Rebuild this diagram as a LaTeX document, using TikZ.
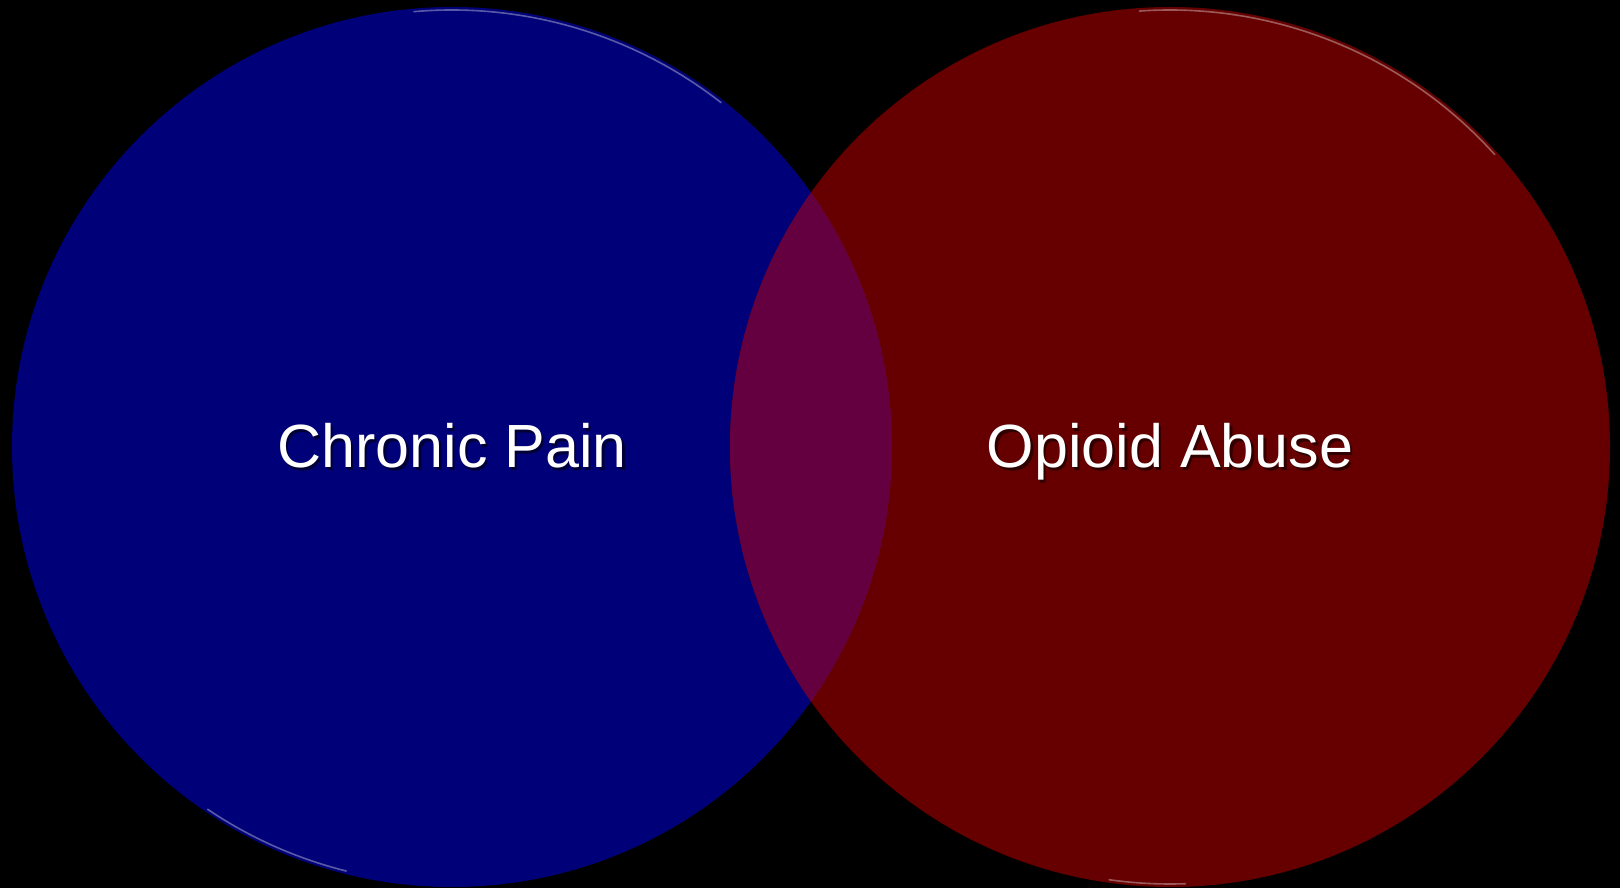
\documentclass[tikz,border=0pt]{standalone}
\usepackage{fontspec}
\setmainfont{Liberation Sans}
\usetikzlibrary{positioning}
\definecolor{vnblue}{HTML}{000078}
\definecolor{vnred}{HTML}{660000}
\definecolor{vnmix}{HTML}{650040}
\tikzset{
  setdisc/.style ={circle, minimum size=880pt, inner sep=0pt},
  setlabel/.style={text=white, font=\fontsize{61}{70}\selectfont, inner sep=0pt, anchor=base},
  setshade/.style={setlabel, text=black, opacity=0.55},
  gloss/.style   ={white, opacity=0.35, line width=1.6pt, line cap=round},
}

\begin{document}
\begin{tikzpicture}[x=1pt, y=1pt]
    % black page
    \fill[black] (0,0) rectangle (1620,888);
    \useasboundingbox (0,0) rectangle (1620,888);
    % the two sets
    \node[setdisc, fill=vnblue] (pain) at (452,441) {};
    \node[setdisc, fill=vnred] (abuse) at (1170,441) {};
    % overlap
    \begin{scope}
        \clip (pain.center) circle (440pt);
        \fill[vnmix] (abuse.center) circle (440pt);
    \end{scope}
    % faint gloss on the rims
    \draw[gloss] (pain.center) ++(52:437pt) arc (52:95:437pt);
    \draw[gloss] (pain.center) ++(236:437pt) arc (236:256:437pt);
    \draw[gloss] (abuse.center) ++(42:437pt) arc (42:94:437pt);
    \draw[gloss] (abuse.center) ++(262:437pt) arc (262:272:437pt);
    % labels
    \node[setshade] (painshade) at ([shift={(2.5,-23.5)}]pain.center) {Chronic Pain};
    \node[setlabel] (painlabel) at ([yshift=-21pt]pain.center) {Chronic Pain};
    \node[setshade] (abuseshade) at ([shift={(2.5,-23.5)}]abuse.center) {Opioid Abuse};
    \node[setlabel] (abuselabel) at ([yshift=-21pt]abuse.center) {Opioid Abuse};
\end{tikzpicture}
\end{document}
